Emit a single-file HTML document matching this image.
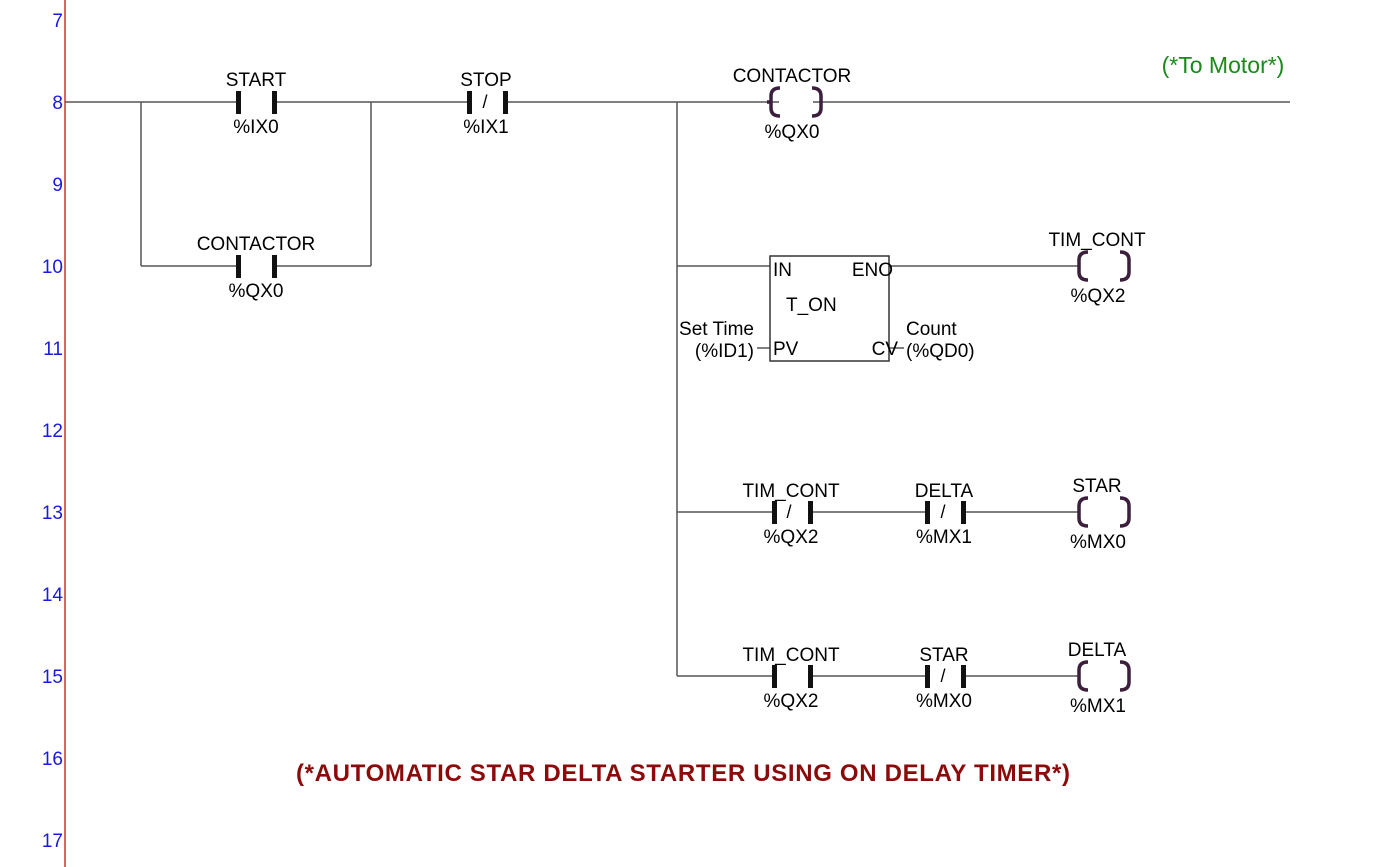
<!DOCTYPE html>
<html><head><meta charset="utf-8"><style>
html,body{margin:0;padding:0;background:#fff;}
svg{display:block;font-family:"Liberation Sans",Arial,sans-serif;}
</style></head><body>
<svg width="1391" height="867" viewBox="0 0 1391 867" xmlns="http://www.w3.org/2000/svg">
<rect width="1391" height="867" fill="#fff"/>
<line x1="65" y1="0" x2="65" y2="867" stroke="#d03030" stroke-width="1.5"/>
<g fill="#1a1adc" font-size="19" text-anchor="end">
<text x="63" y="27">7</text><text x="63" y="109">8</text><text x="63" y="191">9</text>
<text x="63" y="273">10</text><text x="63" y="355">11</text><text x="63" y="437">12</text>
<text x="63" y="519">13</text><text x="63" y="601">14</text><text x="63" y="683">15</text>
<text x="63" y="765">16</text><text x="63" y="847">17</text>
</g>
<g stroke="#555" stroke-width="1.5" fill="none">
<line x1="65" y1="102" x2="1290" y2="102"/>
<line x1="141" y1="102" x2="141" y2="266"/>
<line x1="371" y1="102" x2="371" y2="266"/>
<line x1="141" y1="266" x2="371" y2="266"/>
<line x1="677" y1="102" x2="677" y2="676"/>
<line x1="677" y1="266" x2="770" y2="266"/>
<line x1="889" y1="266" x2="1078" y2="266"/>
<line x1="757" y1="348" x2="770" y2="348"/>
<line x1="889" y1="348" x2="904" y2="348"/>
<line x1="677" y1="512" x2="1078" y2="512"/>
<line x1="677" y1="676" x2="1078" y2="676"/>
</g>
<rect x="770" y="256" width="119" height="105" fill="#fff" stroke="#333" stroke-width="1.5"/>
<g font-size="19" fill="#000">
<text x="773" y="276">IN</text><text x="893" y="276" text-anchor="end">ENO</text>
<text x="786" y="311">T_ON</text>
<text x="773" y="355">PV</text><text x="898" y="355" text-anchor="end">CV</text>
<text x="754" y="335" text-anchor="end">Set Time</text><text x="754" y="357" text-anchor="end">(%ID1)</text>
<text x="906" y="335">Count</text><text x="906" y="357">(%QD0)</text>
</g>
<g>
<rect x="240" y="88" width="32" height="28" fill="#fff"/><rect x="236" y="91" width="5" height="23" fill="#111"/><rect x="272" y="91" width="5" height="23" fill="#111"/>
<rect x="240" y="252" width="32" height="28" fill="#fff"/><rect x="236" y="255" width="5" height="23" fill="#111"/><rect x="272" y="255" width="5" height="23" fill="#111"/>
<rect x="471" y="88" width="32" height="28" fill="#fff"/><rect x="467" y="91" width="5" height="23" fill="#111"/><rect x="503" y="91" width="5" height="23" fill="#111"/>
<rect x="776" y="498" width="32" height="28" fill="#fff"/><rect x="772" y="501" width="5" height="23" fill="#111"/><rect x="808" y="501" width="5" height="23" fill="#111"/>
<rect x="929" y="498" width="32" height="28" fill="#fff"/><rect x="925" y="501" width="5" height="23" fill="#111"/><rect x="961" y="501" width="5" height="23" fill="#111"/>
<rect x="776" y="662" width="32" height="28" fill="#fff"/><rect x="772" y="665" width="5" height="23" fill="#111"/><rect x="808" y="665" width="5" height="23" fill="#111"/>
<rect x="929" y="662" width="32" height="28" fill="#fff"/><rect x="925" y="665" width="5" height="23" fill="#111"/><rect x="961" y="665" width="5" height="23" fill="#111"/>
</g>
<g font-size="18" fill="#000" text-anchor="middle">
<text x="485" y="108">/</text><text x="789" y="518">/</text><text x="943" y="518">/</text><text x="943" y="682">/</text>
</g>
<g stroke="#3b1f3b" stroke-width="3.5" fill="none">
<rect x="779" y="88" width="34" height="28" fill="#fff" stroke="none"/>
<path d="M780,88 Q771,88 771,96 L771,108 Q771,116 780,116 M767,102 L771,102"/>
<path d="M812,88 Q821,88 821,96 L821,108 Q821,116 812,116"/>
<path d="M1088,252 Q1079,252 1079,260 L1079,272 Q1079,280 1088,280"/>
<path d="M1120,252 Q1129,252 1129,260 L1129,272 Q1129,280 1120,280"/>
<path d="M1088,498 Q1079,498 1079,506 L1079,518 Q1079,526 1088,526"/>
<path d="M1120,498 Q1129,498 1129,506 L1129,518 Q1129,526 1120,526"/>
<path d="M1088,662 Q1079,662 1079,670 L1079,682 Q1079,690 1088,690"/>
<path d="M1120,662 Q1129,662 1129,670 L1129,682 Q1129,690 1120,690"/>
</g>
<g font-size="19" fill="#000" text-anchor="middle">
<text x="256" y="86">START</text><text x="256" y="133">%IX0</text>
<text x="256" y="250">CONTACTOR</text><text x="256" y="297">%QX0</text>
<text x="486" y="86">STOP</text><text x="486" y="133">%IX1</text>
<text x="792" y="82">CONTACTOR</text><text x="792" y="138">%QX0</text>
<text x="1097" y="246">TIM_CONT</text><text x="1098" y="302">%QX2</text>
<text x="791" y="497">TIM_CONT</text><text x="791" y="543">%QX2</text>
<text x="944" y="497">DELTA</text><text x="944" y="543">%MX1</text>
<text x="1097" y="492">STAR</text><text x="1098" y="548">%MX0</text>
<text x="791" y="661">TIM_CONT</text><text x="791" y="707">%QX2</text>
<text x="944" y="661">STAR</text><text x="944" y="707">%MX0</text>
<text x="1097" y="656">DELTA</text><text x="1098" y="712">%MX1</text>
</g>
<text x="1223" y="73" font-size="23" fill="#1a8a1a" text-anchor="middle">(*To Motor*)</text>
<text x="683" y="781" font-size="24" font-weight="bold" fill="#8b0a0a" text-anchor="middle" textLength="774">(*AUTOMATIC STAR DELTA STARTER USING ON DELAY TIMER*)</text>
</svg>
</body></html>
